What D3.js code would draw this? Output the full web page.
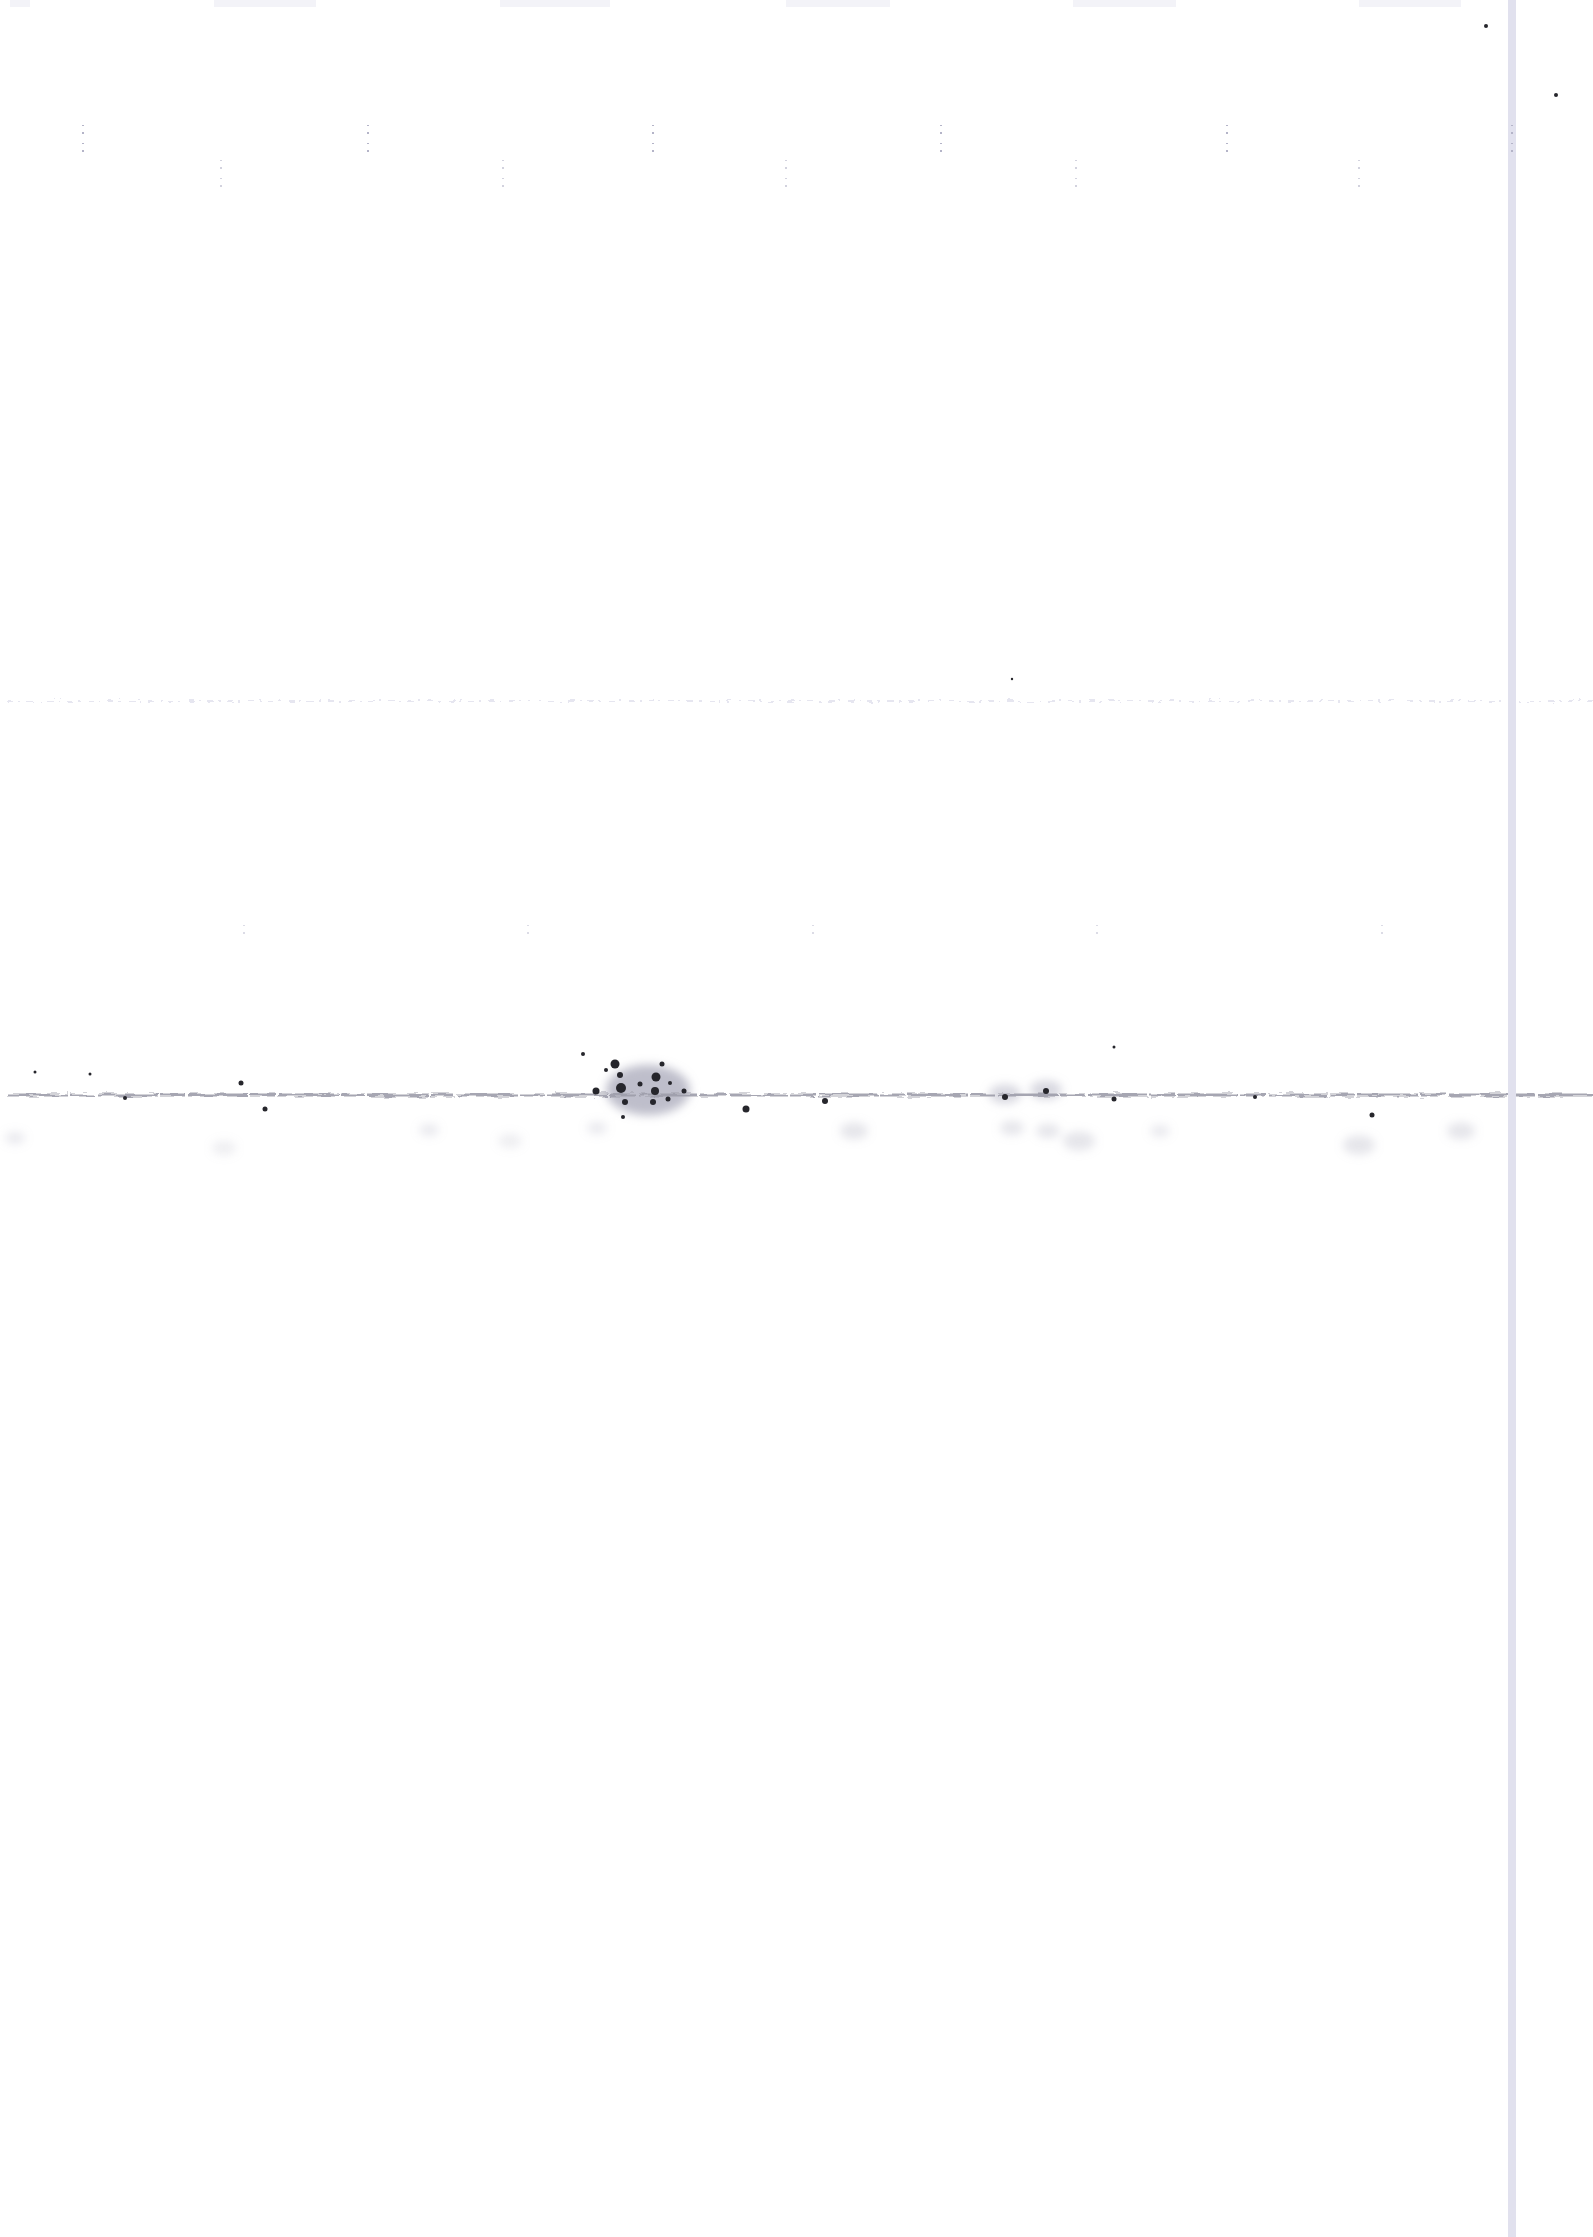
<!DOCTYPE html>
<html>
<head lang="en">
    <meta charset="UTF-8">
    <title></title>
    <script src="https://cdn.jsdelivr.net/npm/d3@7/dist/d3.min.js"></script>
    <style>
        *{
            margin: 0;
            padding: 0;
        }
        body{background:#fff;}
    </style>
</head>
<body>
<div id="mychart" style="width:1593px;height:2237px;position:absolute;left:0;top:0"></div>
<script>
    // page units (scan pixels)
    var pageW = 1593, pageH = 2237;
    // ruled lines across the sheet
    var ruleY = [701, 1095];
    var ruleTone = ["#c4c4da", "#9d9daa"];
    var ruleWidth = [1.6, 3.2];
    // vertical fold band
    var bandX = [1512];
    // dark toner specks
    var speckX = [615, 620, 621, 596, 656, 655, 662, 625, 653, 668, 684, 623, 746, 583, 265, 241, 125, 825, 1005, 1046, 1114, 1255, 1372, 1114, 1486, 1556, 35, 90, 1012, 640, 670, 606];
    var speckY = [1064, 1075, 1088, 1091, 1077, 1091, 1064, 1102, 1102, 1099, 1091, 1117, 1109, 1054, 1109, 1083, 1098, 1101, 1097, 1091, 1099, 1097, 1115, 1047, 26, 95, 1072, 1074, 679, 1084, 1083, 1070];
    var speckR = [4.5, 3, 5, 3.5, 4.5, 4, 2.5, 3, 3, 2.5, 2.5, 2, 3.5, 2, 2.5, 2.5, 2, 3, 3, 3, 2.5, 2, 2.5, 1.5, 2, 2, 1.5, 1.5, 1.2, 2.5, 2, 2];
    // grey ghost smudges under the lower rule
    var ghostX = [648, 854, 1012, 1048, 1079, 1160, 1359, 1461, 15, 429, 597, 510, 224, 1005, 1046];
    var ghostY = [1090, 1131, 1128, 1131, 1141, 1131, 1145, 1131, 1138, 1130, 1128, 1141, 1148, 1094, 1090];
    var ghostR = [42, 14, 12, 12, 16, 10, 16, 14, 10, 10, 10, 12, 12, 16, 16];
    var ghostO = [0.75, 0.3, 0.3, 0.3, 0.3, 0.25, 0.3, 0.3, 0.25, 0.25, 0.25, 0.2, 0.2, 0.45, 0.45];
    // faint dotted marks near top and middle
    var rowAX = [83, 368, 653, 941, 1227, 1512];
    var rowBX = [221, 503, 786, 1076, 1359];
    var rowCX = [244, 528, 813, 1097, 1382];
    // faint smudges on top edge
    var edgeStart = [10, 214, 500, 786, 1073, 1359];
    var edgeEnd = [30, 316, 610, 890, 1176, 1461];

    var x = d3.scaleLinear().domain([0, pageW]).range([0, 1593]);
    var y = d3.scaleLinear().domain([0, pageH]).range([0, 2237]);

    var svg = d3.select("#mychart").append("svg")
            .attr("width", 1593)
            .attr("height", 2237);
    var defs = svg.append("defs");
    var rough = defs.append("filter").attr("id", "rough")
            .attr("x", "-5%").attr("y", "-200%").attr("width", "110%").attr("height", "500%");
    rough.append("feTurbulence").attr("type", "fractalNoise")
            .attr("baseFrequency", "0.06 0.3").attr("numOctaves", 2).attr("seed", 3).attr("result", "n");
    rough.append("feDisplacementMap").attr("in", "SourceGraphic").attr("in2", "n")
            .attr("scale", 6).attr("xChannelSelector", "R").attr("yChannelSelector", "G");
    var blur = defs.append("filter").attr("id", "blur")
            .attr("x", "-100%").attr("y", "-100%").attr("width", "300%").attr("height", "300%");
    blur.append("feGaussianBlur").attr("stdDeviation", 5);

    svg.append("rect").attr("width", 1593).attr("height", 2237).attr("fill", "#fff");

    // ghost smudges
    svg.append("g").attr("filter", "url(#blur)")
            .selectAll("ellipse").data(ghostX).enter().append("ellipse")
            .attr("cx", function(d){ return x(d); })
            .attr("cy", function(d, i){ return y(ghostY[i]); })
            .attr("rx", function(d, i){ return ghostR[i]; })
            .attr("ry", function(d, i){ return ghostR[i] * 0.6; })
            .attr("fill", "#a8a8ba")
            .attr("opacity", function(d, i){ return ghostO[i]; });

    // rules
    svg.append("g").attr("filter", "url(#rough)")
            .selectAll("line").data(ruleY).enter().append("line")
            .attr("x1", x(8)).attr("x2", x(pageW))
            .attr("y1", function(d){ return y(d); })
            .attr("y2", function(d){ return y(d); })
            .attr("stroke", function(d, i){ return ruleTone[i]; })
            .attr("stroke-width", function(d, i){ return ruleWidth[i]; })
            .attr("stroke-dasharray", function(d, i){ return i === 0 ? "6,5,2,7" : "60,2,25,3"; })
            .attr("opacity", function(d, i){ return i === 0 ? 0.55 : 0.9; });

    // vertical band
    svg.append("g").selectAll("rect").data(bandX).enter().append("rect")
            .attr("x", function(d){ return x(d) - 4; })
            .attr("y", 0)
            .attr("width", 8)
            .attr("height", y(pageH))
            .attr("fill", "#e1e1ee");

    // top edge smudges (faint hatching)
    svg.append("g").selectAll("rect").data(edgeStart).enter().append("rect")
            .attr("x", function(d){ return x(d); })
            .attr("y", 0)
            .attr("width", function(d, i){ return x(edgeEnd[i]) - x(d); })
            .attr("height", 7)
            .attr("fill", "#dcdcea")
            .attr("opacity", 0.35);

    // dotted marks rows
    function dotRow(xs, y0, y1, tone){
        svg.append("g").selectAll("line").data(xs).enter().append("line")
                .attr("x1", function(d){ return x(d); })
                .attr("x2", function(d){ return x(d); })
                .attr("y1", y(y0)).attr("y2", y(y1))
                .attr("stroke", tone)
                .attr("stroke-width", 2)
                .attr("stroke-dasharray", "1,6,2,9");
    }
    dotRow(rowAX, 125, 152, "#b4b4c8");
    dotRow(rowBX, 160, 188, "#d2d2de");
    dotRow(rowCX, 925, 940, "#dcdce6");

    // specks
    svg.append("g").selectAll("circle").data(speckX).enter().append("circle")
            .attr("cx", function(d){ return x(d); })
            .attr("cy", function(d, i){ return y(speckY[i]); })
            .attr("r", function(d, i){ return speckR[i]; })
            .attr("fill", "#26262c");
</script>
</body>
</html>
